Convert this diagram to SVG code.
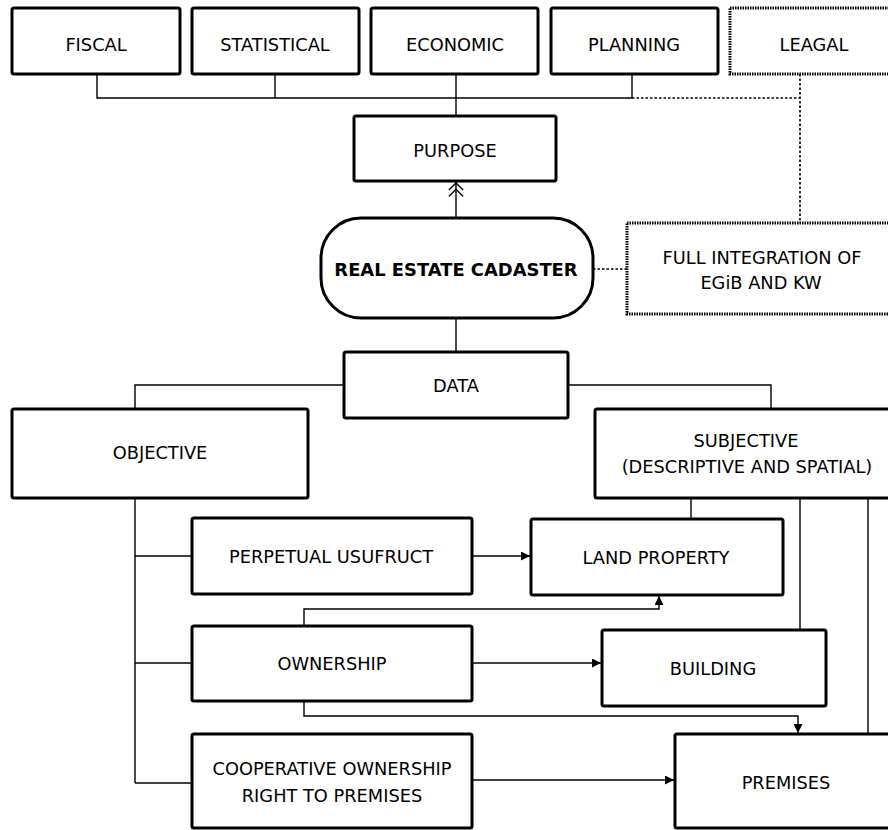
<svg xmlns="http://www.w3.org/2000/svg" width="888" height="830" viewBox="0 0 888 830">
<defs>
<style>
.box{fill:#fff;stroke:#000;stroke-width:3}
.dot{fill:#fff;stroke:#000;stroke-width:3;stroke-dasharray:1.5 1}
.ln{fill:none;stroke:#000;stroke-width:1.4}
.dl{fill:none;stroke:#000;stroke-width:1.6;stroke-dasharray:2.5 2}
text{font-family:"DejaVu Sans",sans-serif;font-size:17.8px;fill:#000;text-anchor:middle;dominant-baseline:central}
.b{font-weight:bold;font-size:17.9px}
</style>
<marker id="ah" viewBox="0 0 10 10" refX="10" refY="5" markerWidth="9" markerHeight="9" markerUnits="userSpaceOnUse" orient="auto">
<path d="M0,0 L10,5 L0,10 Z" fill="#000"/>
</marker>
<marker id="dch" viewBox="0 0 20 20" refX="19" refY="10" markerWidth="18" markerHeight="18" markerUnits="userSpaceOnUse" orient="auto">
<path d="M3,2 L11,10 L3,18 M10,2 L18,10 L10,18" fill="none" stroke="#000" stroke-width="1.5"/>
</marker>
</defs>
<g id="connectors">
<polyline class="ln" points="97,74 97,98 632,98"/>
<line class="ln" x1="275" y1="74" x2="275" y2="98"/>
<line class="ln" x1="456" y1="74" x2="456" y2="116"/>
<line class="ln" x1="632" y1="74" x2="632" y2="98"/>
<polyline class="dl" points="632,98 800,98"/>
<line class="dl" x1="800" y1="74" x2="800" y2="223"/>
<line class="ln" x1="456" y1="218" x2="456" y2="182" marker-end="url(#dch)"/>
<line class="dl" x1="593" y1="269" x2="627" y2="269"/>
<line class="ln" x1="456" y1="318" x2="456" y2="352"/>
<polyline class="ln" points="344,385 135,385 135,409"/>
<polyline class="ln" points="568,385 771,385 771,409"/>
<line class="ln" x1="135" y1="498" x2="135" y2="783"/>
<line class="ln" x1="135" y1="556" x2="192" y2="556"/>
<line class="ln" x1="135" y1="663" x2="192" y2="663"/>
<line class="ln" x1="135" y1="783" x2="192" y2="783"/>
<line class="ln" x1="472" y1="556" x2="530" y2="556" marker-end="url(#ah)"/>
<polyline class="ln" points="304,626 304,609 659,609 659,596" marker-end="url(#ah)"/>
<line class="ln" x1="472" y1="663" x2="601" y2="663" marker-end="url(#ah)"/>
<polyline class="ln" points="304,701 304,716 798,716 798,733" marker-end="url(#ah)"/>
<line class="ln" x1="472" y1="780" x2="674" y2="780" marker-end="url(#ah)"/>
<line class="ln" x1="691" y1="498" x2="691" y2="519"/>
<line class="ln" x1="800" y1="498" x2="800" y2="630"/>
<line class="ln" x1="868" y1="498" x2="868" y2="734"/>
</g>
<g id="fiscal"><rect class="box" x="12" y="8" width="168" height="66" rx="2"/><text x="96" y="44">FISCAL</text></g>
<g id="statistical"><rect class="box" x="192" y="8" width="167" height="66" rx="2"/><text x="275" y="44">STATISTICAL</text></g>
<g id="economic"><rect class="box" x="371" y="8" width="167" height="66" rx="2"/><text x="455" y="44">ECONOMIC</text></g>
<g id="planning"><rect class="box" x="551" y="8" width="167" height="66" rx="2"/><text x="634" y="44">PLANNING</text></g>
<g id="leagal"><rect class="dot" x="730" y="8" width="170" height="66"/><text x="814" y="44">LEAGAL</text></g>
<g id="purpose"><rect class="box" x="354" y="116" width="202" height="65" rx="2"/><text x="455" y="150">PURPOSE</text></g>
<g id="cadaster"><rect class="box" x="321" y="218" width="272" height="100" rx="40"/><text class="b" x="456" y="269">REAL ESTATE CADASTER</text></g>
<g id="integration"><rect class="dot" x="627" y="223" width="270" height="91"/><text x="762" y="257">FULL INTEGRATION OF</text><text x="761" y="282">EGiB AND KW</text></g>
<g id="data"><rect class="box" x="344" y="352" width="224" height="66" rx="2"/><text x="456" y="385">DATA</text></g>
<g id="objective"><rect class="box" x="12" y="409" width="296" height="89" rx="2"/><text x="160" y="452">OBJECTIVE</text></g>
<g id="subjective"><rect class="box" x="595" y="409" width="300" height="89" rx="2"/><text x="746" y="440">SUBJECTIVE</text><text x="747" y="466">(DESCRIPTIVE AND SPATIAL)</text></g>
<g id="usufruct"><rect class="box" x="192" y="518" width="280" height="76" rx="2"/><text x="331" y="556">PERPETUAL USUFRUCT</text></g>
<g id="ownership"><rect class="box" x="192" y="626" width="280" height="75" rx="2"/><text x="332" y="663">OWNERSHIP</text></g>
<g id="cooperative"><rect class="box" x="192" y="734" width="280" height="94" rx="2"/><text x="332" y="768">COOPERATIVE OWNERSHIP</text><text x="332" y="795">RIGHT TO PREMISES</text></g>
<g id="land"><rect class="box" x="531" y="519" width="252" height="76" rx="2"/><text x="656" y="557">LAND PROPERTY</text></g>
<g id="building"><rect class="box" x="602" y="630" width="224" height="76" rx="2"/><text x="713" y="668">BUILDING</text></g>
<g id="premises"><rect class="box" x="675" y="734" width="220" height="94" rx="2"/><text x="786" y="782">PREMISES</text></g>
</svg>
